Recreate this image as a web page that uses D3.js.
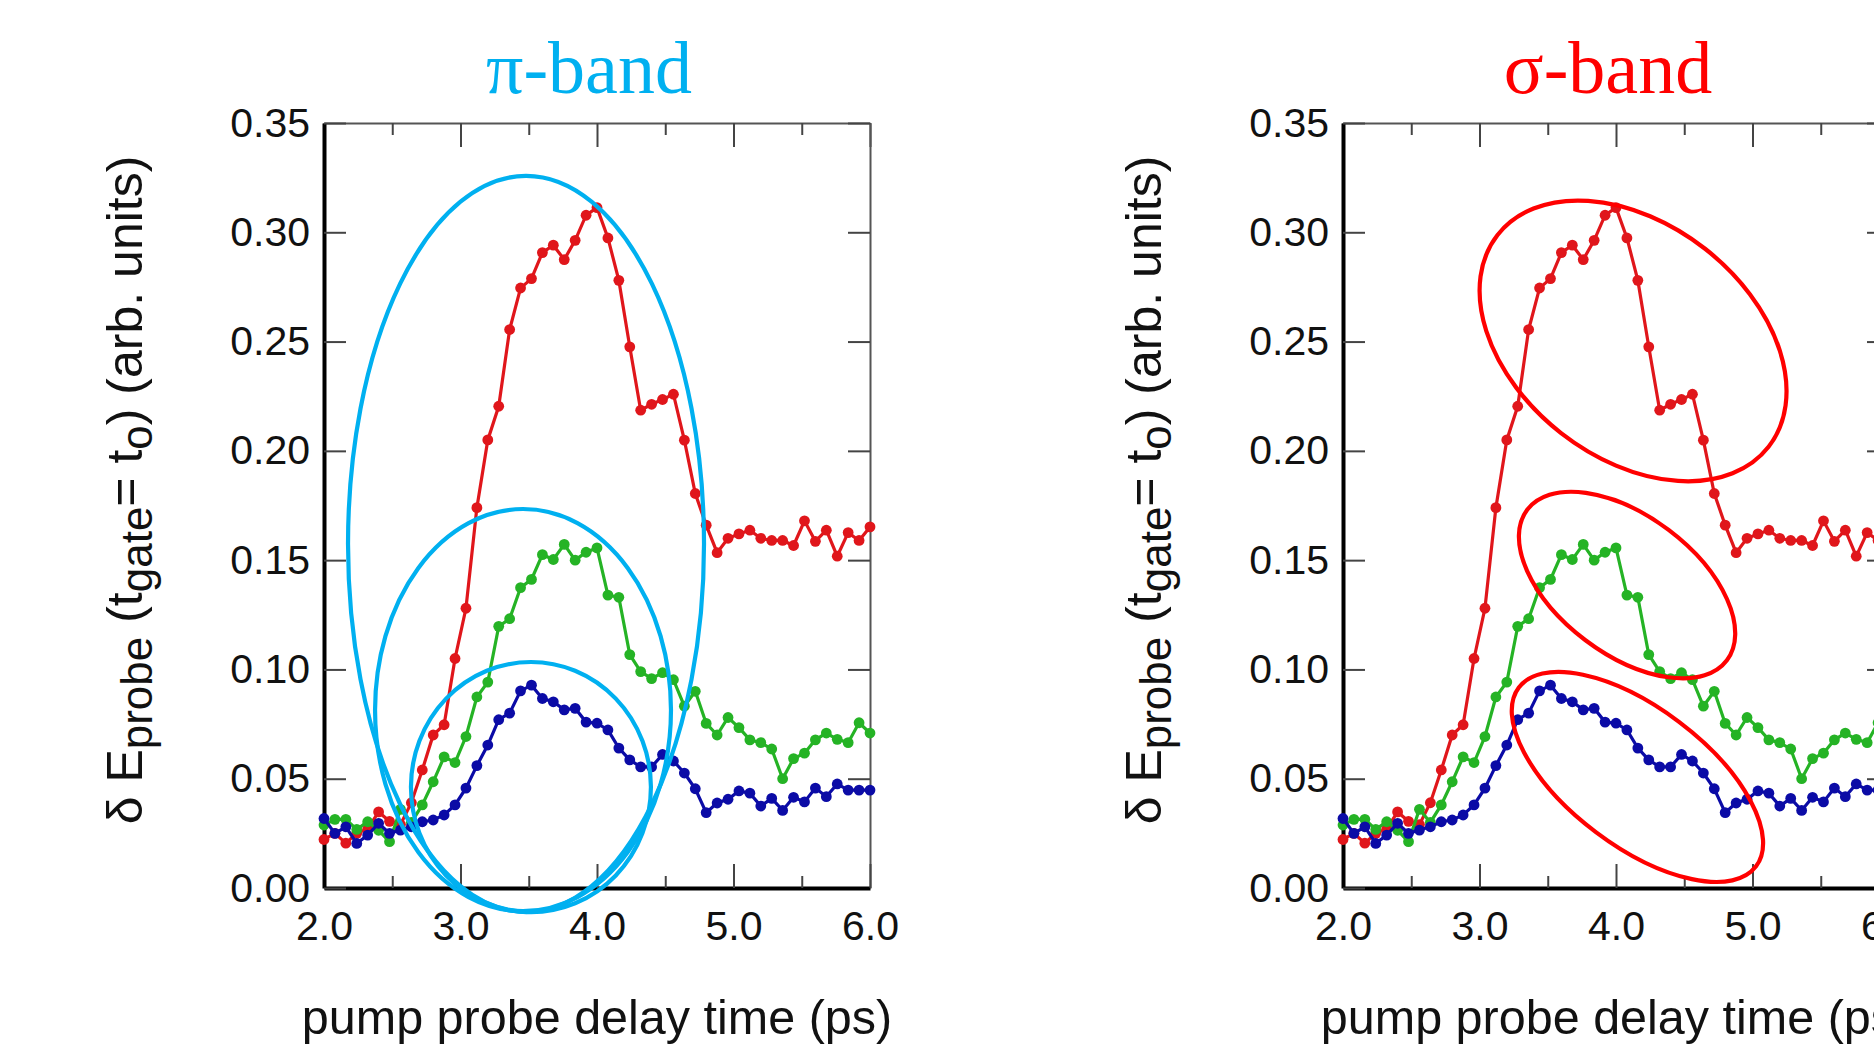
<!DOCTYPE html>
<html>
<head>
<meta charset="utf-8">
<script src="https://cdn.jsdelivr.net/npm/d3@7"></script>
<style>
  body { margin: 0; background: #fff; }
  svg { display: block; }
</style>
</head>
<body>
<svg id="chart" width="1874" height="1049"></svg>
<script>
// delay times (ps), one point every 0.08 ps
var times = [2.00, 2.08, 2.16, 2.24, 2.32, 2.40, 2.48, 2.56, 2.64, 2.72,
             2.80, 2.88, 2.96, 3.04, 3.12, 3.20, 3.28, 3.36, 3.44, 3.52,
             3.60, 3.68, 3.76, 3.84, 3.92, 4.00, 4.08, 4.16, 4.24, 4.32,
             4.40, 4.48, 4.56, 4.64, 4.72, 4.80, 4.88, 4.96, 5.04, 5.12,
             5.20, 5.28, 5.36, 5.44, 5.52, 5.60, 5.68, 5.76, 5.84, 5.92, 6.00];

var redValues = [0.0222, 0.0250, 0.0205, 0.0250, 0.0270, 0.0348, 0.0305, 0.0290, 0.0390, 0.0540,
                 0.0700, 0.0747, 0.1050, 0.1280, 0.1740, 0.2050, 0.2204, 0.2555, 0.2745, 0.2788,
                 0.2907, 0.2941, 0.2875, 0.2963, 0.3078, 0.3113, 0.2974, 0.2780, 0.2476, 0.2186,
                 0.2213, 0.2235, 0.2259, 0.2049, 0.1805, 0.1660, 0.1534, 0.1600, 0.1620, 0.1637,
                 0.1600, 0.1590, 0.1590, 0.1567, 0.1680, 0.1586, 0.1637, 0.1518, 0.1626, 0.1590, 0.1652];

var greenValues = [0.0288, 0.0314, 0.0314, 0.0268, 0.0303, 0.0264, 0.0212, 0.0360, 0.0300, 0.0380,
                   0.0486, 0.0600, 0.0574, 0.0693, 0.0874, 0.0942, 0.1197, 0.1232, 0.1374, 0.1412,
                   0.1525, 0.1503, 0.1572, 0.1500, 0.1536, 0.1556, 0.1340, 0.1330, 0.1068, 0.0990,
                   0.0958, 0.0985, 0.0953, 0.0832, 0.0900, 0.0753, 0.0700, 0.0780, 0.0734, 0.0678,
                   0.0665, 0.0636, 0.0500, 0.0592, 0.0617, 0.0678, 0.0709, 0.0680, 0.0665, 0.0756, 0.0709];

var blueValues = [0.0318, 0.0250, 0.0280, 0.0204, 0.0242, 0.0296, 0.0250, 0.0265, 0.0280, 0.0303,
                  0.0311, 0.0334, 0.0380, 0.0457, 0.0560, 0.0654, 0.0770, 0.0800, 0.0902, 0.0928,
                  0.0867, 0.0852, 0.0815, 0.0822, 0.0759, 0.0754, 0.0723, 0.0640, 0.0586, 0.0554,
                  0.0554, 0.0611, 0.0581, 0.0526, 0.0454, 0.0345, 0.0389, 0.0406, 0.0444, 0.0434,
                  0.0375, 0.0410, 0.0355, 0.0415, 0.0394, 0.0457, 0.0418, 0.0476, 0.0448, 0.0448, 0.0448];

var xMajorTicks = [2.0, 3.0, 4.0, 5.0, 6.0];
var xMinorTicks = [2.5, 3.5, 4.5, 5.5];
var yTicks = [0.00, 0.05, 0.10, 0.15, 0.20, 0.25, 0.30, 0.35];

// ring annotations: centre (ps, value), radii (ps, value), tilt in degrees
var piRings = [
  {t: 3.480, v: 0.1574, rt: 1.304, rv: 0.1684, tilt: 0},
  {t: 3.458, v: 0.0814, rt: 1.084, rv: 0.0920, tilt: 0},
  {t: 3.516, v: 0.0462, rt: 0.879, rv: 0.0572, tilt: 0}
];
var sigmaRings = [
  {t: 4.125, v: 0.2503, rt: 1.260, rv: 0.0535, tilt: 38},
  {t: 4.081, v: 0.1386, rt: 0.916, rv: 0.0316, tilt: 37},
  {t: 4.157, v: 0.0508, rt: 1.088, rv: 0.0316, tilt: 37}
];

var series = [
  {name: "red", color: "#e0161b", values: redValues},
  {name: "green", color: "#25b325", values: greenValues},
  {name: "blue", color: "#0b0ba6", values: blueValues}
];

var panels = [
  {title: "\u03c0-band", color: "#00b0f0", left: 324, rings: piRings},
  {title: "\u03c3-band", color: "#ff0000", left: 1343, rings: sigmaRings}
];

var plotW = 546, plotH = 765, plotTop = 123;

var svg = d3.select("#chart");

var x = d3.scaleLinear().domain([2, 6]).range([0, plotW]);
var y = d3.scaleLinear().domain([0, 0.35]).range([plotH, 0]);

var line = d3.line()
  .x(function (d) { return x(d.t); })
  .y(function (d) { return y(d.v); });

panels.forEach(function (p) {
  var g = svg.append("g").attr("transform", "translate(" + p.left + "," + plotTop + ")");

  // title
  svg.append("text")
    .attr("x", p.left + 265)
    .attr("y", 93)
    .attr("text-anchor", "middle")
    .attr("font-family", "'Liberation Serif', 'Times New Roman', serif")
    .attr("font-size", 74)
    .attr("fill", p.color)
    .text(p.title);

  // frame: top and right thin, left and bottom heavy
  var axTop = g.append("g").call(d3.axisTop(x).tickValues(xMajorTicks).tickSize(-24).tickSizeOuter(0).tickFormat(""));
  var axTopMinor = g.append("g").call(d3.axisTop(x).tickValues(xMinorTicks).tickSize(-12).tickSizeOuter(0).tickFormat(""));
  var axRight = g.append("g").attr("transform", "translate(" + plotW + ",0)")
    .call(d3.axisRight(y).tickValues(yTicks).tickSize(-22).tickSizeOuter(0).tickFormat(""));
  var axBottom = g.append("g").attr("transform", "translate(0," + plotH + ")")
    .call(d3.axisBottom(x).tickValues(xMajorTicks).tickSize(-24).tickSizeOuter(0).tickPadding(23).tickFormat(d3.format(".1f")));
  var axBottomMinor = g.append("g").attr("transform", "translate(0," + plotH + ")")
    .call(d3.axisBottom(x).tickValues(xMinorTicks).tickSize(-12).tickSizeOuter(0).tickFormat(""));
  var axLeft = g.append("g")
    .call(d3.axisLeft(y).tickValues(yTicks).tickSize(-22).tickSizeOuter(0).tickPadding(14).tickFormat(d3.format(".2f")));

  [axTop, axTopMinor, axRight, axBottom, axBottomMinor, axLeft].forEach(function (a) {
    a.selectAll(".tick line").attr("stroke", "#444").attr("stroke-width", 2);
    a.selectAll("text")
      .attr("font-family", "'Liberation Sans', Arial, sans-serif")
      .attr("font-size", 41)
      .attr("fill", "#111");
  });
  [axTop, axTopMinor, axRight].forEach(function (a) {
    a.select(".domain").attr("stroke", "#555").attr("stroke-width", 2);
  });
  [axTopMinor, axBottomMinor].forEach(function (a) { a.select(".domain").remove(); });
  [axBottom, axLeft].forEach(function (a) {
    a.select(".domain").attr("stroke", "#000").attr("stroke-width", 4);
  });

  // y axis title with subscripts
  var yl = svg.append("text")
    .attr("transform", "translate(" + (p.left - 182) + ",490) rotate(-90)")
    .attr("text-anchor", "middle")
    .attr("font-family", "'Liberation Sans', Arial, sans-serif")
    .attr("font-size", 50)
    .attr("fill", "#111");
  yl.append("tspan").text("\u03b4 E");
  yl.append("tspan").attr("font-size", 44).attr("dy", 10).text("probe");
  yl.append("tspan").attr("dy", -10).text(" (t");
  yl.append("tspan").attr("font-size", 44).attr("dy", 10).text("gate");
  yl.append("tspan").attr("dy", -10).text("= t");
  yl.append("tspan").attr("font-size", 44).attr("dy", 10).text("o");
  yl.append("tspan").attr("dy", -10).text(") (arb. units)");

  // x axis title
  svg.append("text")
    .attr("x", p.left + 273)
    .attr("y", 1034)
    .attr("text-anchor", "middle")
    .attr("font-family", "'Liberation Sans', Arial, sans-serif")
    .attr("font-size", 48.5)
    .attr("fill", "#111")
    .text("pump probe delay time (ps)");

  // data
  series.forEach(function (s) {
    var pts = times.map(function (t, i) { return {t: t, v: s.values[i]}; });
    var sg = g.append("g").attr("class", "series-" + s.name);
    sg.append("path")
      .datum(pts)
      .attr("d", line)
      .attr("fill", "none")
      .attr("stroke", s.color)
      .attr("stroke-width", 3.2);
    sg.selectAll("circle")
      .data(pts)
      .enter().append("circle")
      .attr("cx", function (d) { return x(d.t); })
      .attr("cy", function (d) { return y(d.v); })
      .attr("r", 5.4)
      .attr("fill", s.color);
  });

  // ring annotations
  g.selectAll("ellipse.ring")
    .data(p.rings)
    .enter().append("ellipse")
    .attr("class", "ring")
    .attr("transform", function (d) {
      return "translate(" + x(d.t) + "," + y(d.v) + ") rotate(" + d.tilt + ")";
    })
    .attr("rx", function (d) { return x(d.t + d.rt) - x(d.t); })
    .attr("ry", function (d) { return y(d.v) - y(d.v + d.rv); })
    .attr("fill", "none")
    .attr("stroke", p.color)
    .attr("stroke-width", 4.2);
});
</script>
</body>
</html>
